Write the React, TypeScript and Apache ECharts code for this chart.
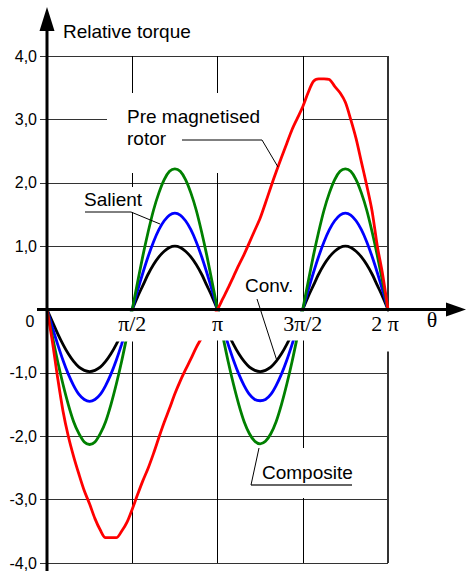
import React, { useEffect, useRef } from 'react';
import * as echarts from 'echarts';

// theta in units of pi
const thetaPi = [
  0, 0.03125, 0.0625, 0.09375, 0.125, 0.15625, 0.1875, 0.21875, 0.25, 0.28125, 0.3125, 0.34375, 0.375, 0.40625, 0.4375, 0.46875,
  0.5, 0.53125, 0.5625, 0.59375, 0.625, 0.65625, 0.6875, 0.71875, 0.75, 0.78125, 0.8125, 0.84375, 0.875, 0.90625, 0.9375, 0.96875,
  1, 1.03125, 1.0625, 1.09375, 1.125, 1.15625, 1.1875, 1.21875, 1.25, 1.28125, 1.3125, 1.34375, 1.375, 1.40625, 1.4375, 1.46875,
  1.5, 1.53125, 1.5625, 1.59375, 1.625, 1.65625, 1.6875, 1.71875, 1.75, 1.78125, 1.8125, 1.84375, 1.875, 1.90625, 1.9375, 1.96875,
  2,
];

const conv = [
  0, -0.19, -0.38, -0.55, -0.7, -0.82, -0.91, -0.96, -0.98, -0.96, -0.91, -0.82, -0.7, -0.55, -0.38, -0.19,
  0, 0.2, 0.38, 0.56, 0.71, 0.83, 0.92, 0.98, 1.0, 0.98, 0.92, 0.83, 0.71, 0.56, 0.38, 0.2,
  0, -0.19, -0.38, -0.55, -0.7, -0.82, -0.91, -0.96, -0.98, -0.96, -0.91, -0.82, -0.7, -0.55, -0.38, -0.19,
  0, 0.2, 0.38, 0.56, 0.71, 0.83, 0.92, 0.98, 1.0, 0.98, 0.92, 0.83, 0.71, 0.56, 0.38, 0.2,
  0,
];

const salient = [
  0, -0.28, -0.55, -0.8, -1.02, -1.2, -1.34, -1.42, -1.45, -1.42, -1.34, -1.2, -1.02, -0.8, -0.55, -0.28,
  0, 0.3, 0.58, 0.84, 1.07, 1.26, 1.4, 1.49, 1.52, 1.49, 1.4, 1.26, 1.07, 0.84, 0.58, 0.3,
  0, -0.28, -0.55, -0.8, -1.02, -1.2, -1.34, -1.42, -1.44, -1.42, -1.34, -1.2, -1.02, -0.8, -0.55, -0.28,
  0, 0.3, 0.58, 0.84, 1.07, 1.26, 1.4, 1.49, 1.52, 1.49, 1.4, 1.26, 1.07, 0.84, 0.58, 0.3,
  0,
];

const composite = [
  0, -0.42, -0.82, -1.18, -1.5, -1.77, -1.96, -2.09, -2.13, -2.09, -1.96, -1.77, -1.5, -1.18, -0.82, -0.42,
  0, 0.43, 0.85, 1.23, 1.57, 1.84, 2.05, 2.18, 2.22, 2.18, 2.05, 1.84, 1.57, 1.23, 0.85, 0.43,
  0, -0.42, -0.82, -1.18, -1.5, -1.77, -1.96, -2.08, -2.12, -2.08, -1.96, -1.77, -1.5, -1.18, -0.82, -0.42,
  0, 0.43, 0.85, 1.23, 1.57, 1.84, 2.05, 2.18, 2.22, 2.18, 2.05, 1.84, 1.57, 1.23, 0.85, 0.43,
  0,
];

const preMagnetised = [
  0, -0.5, -1.08, -1.6, -2.0, -2.32, -2.6, -2.86, -3.07, -3.3, -3.48, -3.6, -3.6, -3.6, -3.5, -3.36,
  -3.15, -2.92, -2.7, -2.5, -2.27, -2.02, -1.78, -1.56, -1.33, -1.13, -0.95, -0.78, -0.6, -0.45, -0.3, -0.15,
  0, 0.17, 0.34, 0.52, 0.7, 0.87, 1.06, 1.25, 1.44, 1.68, 1.93, 2.17, 2.4, 2.62, 2.84, 3.02,
  3.2, 3.42, 3.6, 3.64, 3.64, 3.63, 3.52, 3.42, 3.27, 3.0, 2.7, 2.33, 1.96, 1.56, 1.0, 0.55,
  0,
];

const xTickValues = [0.5, 1, 1.5, 2];
const xTickLabels = ['π/2', 'π', '3π/2', '2 π'];
const xLabelBoxWidths = [46, 40, 54, 38];
const xLabelBoxHeights = [30, 29, 29, 40];

const SANS = "'Liberation Sans', Arial, sans-serif";
const SERIF = "'Liberation Serif', 'Times New Roman', serif";

const W = 467;
const H = 571;
const GRID = { left: 47, top: 56, width: 341, height: 512 };

export default function App() {
  const ref = useRef<HTMLDivElement>(null);

  useEffect(() => {
    if (!ref.current) return;
    const chart = echarts.init(ref.current, undefined, { renderer: 'svg' });

    const mk = (vals: number[]) => thetaPi.map((t, i) => [t, vals[i]]);
    const line = (name: string, vals: number[], color: string) => ({
      name,
      type: 'line',
      data: mk(vals),
      showSymbol: false,
      symbol: 'none',
      smooth: 0.3,
      lineStyle: { color, width: 2.8 },
      z: 2,
    });

    chart.setOption({
      animation: false,
      backgroundColor: '#ffffff',
      grid: { left: GRID.left, top: GRID.top, width: GRID.width, height: GRID.height, containLabel: false },
      xAxis: {
        type: 'value',
        min: 0,
        max: 2,
        interval: 0.5,
        axisLine: { show: false },
        axisTick: { show: false },
        axisLabel: { show: false },
        splitLine: { show: true, lineStyle: { color: '#000', width: 1 } },
      },
      yAxis: {
        type: 'value',
        min: -4,
        max: 4,
        interval: 1,
        axisLine: { show: false },
        axisTick: { show: true, length: 7, lineStyle: { color: '#333', width: 1 } },
        axisLabel: {
          margin: 10,
          fontSize: 16,
          fontFamily: SANS,
          color: '#000',
          formatter: (v: number) => (v === 0 ? '' : v.toFixed(1).replace('.', ',')),
        },
        splitLine: { show: true, lineStyle: { color: '#333', width: 1 } },
      },
      series: [
        line('Conv.', conv, '#000000'),
        line('Salient', salient, '#0000ff'),
        line('Composite', composite, '#008000'),
        line('Pre magnetised rotor', preMagnetised, '#ff0000'),
      ],
    });

    const px = (x: number, y: number) => chart.convertToPixel({ gridIndex: 0 }, [x, y]) as number[];
    const origin = px(0, 0);
    const topLeft = px(0, 4);
    const bottomRight = px(2, -4);

    const graphics: any[] = [];

    // white boxes behind annotation labels (hide grid lines)
    const annoBox = (x: number, y: number, w: number, h: number) => ({
      type: 'rect', z: 1, silent: true,
      shape: { x, y, width: w, height: h },
      style: { fill: '#ffffff' },
    });
    graphics.push(annoBox(107, 93, 195, 80));
    graphics.push(annoBox(80, 187, 66, 25));
    graphics.push(annoBox(255, 448, 105, 50));

    // right border at 2π
    graphics.push({
      type: 'line', z: 1, silent: true,
      shape: { x1: bottomRight[0], y1: topLeft[1], x2: bottomRight[0], y2: bottomRight[1] },
      style: { stroke: '#333', lineWidth: 2 },
    });

    // x tick labels with white boxes
    xTickValues.forEach((v, i) => {
      const p = px(v, 0);
      const w = xLabelBoxWidths[i];
      const shift = i === 3 ? 3 : 0;
      graphics.push({
        type: 'rect', z: 10, silent: true,
        shape: { x: p[0] - w / 2 - shift, y: origin[1] + 2, width: w, height: xLabelBoxHeights[i] },
        style: { fill: '#ffffff' },
      });
      graphics.push({
        type: 'text', z: 21, silent: true,
        x: p[0] - shift, y: origin[1] + 14,
        style: { text: xTickLabels[i], fontSize: 22, fontFamily: SERIF, fill: '#000', align: 'center', verticalAlign: 'middle' },
      });
    });

    // origin label "0"
    graphics.push({
      type: 'text', z: 21, silent: true,
      x: origin[0] - 17, y: origin[1] + 12,
      style: { text: '0', fontSize: 16, fontFamily: SANS, fill: '#000', align: 'center', verticalAlign: 'middle' },
    });

    // theta label
    graphics.push({
      type: 'text', z: 21, silent: true,
      x: 432, y: origin[1] + 10,
      style: { text: 'θ', fontSize: 22, fontFamily: SERIF, fill: '#000', align: 'center', verticalAlign: 'middle' },
    });

    // axes
    graphics.push({
      type: 'line', z: 20, silent: true,
      shape: { x1: origin[0], y1: H, x2: origin[0], y2: 26 },
      style: { stroke: '#000', lineWidth: 3 },
    });
    graphics.push({
      type: 'polygon', z: 20, silent: true,
      shape: { points: [[origin[0], 7], [origin[0] - 7.5, 31], [origin[0] + 7.5, 31]] },
      style: { fill: '#000' },
    });
    graphics.push({
      type: 'line', z: 20, silent: true,
      shape: { x1: 37, y1: origin[1], x2: 450, y2: origin[1] },
      style: { stroke: '#000', lineWidth: 3 },
    });
    graphics.push({
      type: 'polygon', z: 20, silent: true,
      shape: { points: [[466, origin[1]], [446, origin[1] - 7], [446, origin[1] + 7]] },
      style: { fill: '#000' },
    });

    // axis title
    graphics.push({
      type: 'text', z: 21, silent: true,
      x: 63, y: 31,
      style: { text: 'Relative torque', fontSize: 19, fontFamily: SANS, fill: '#000', align: 'left', verticalAlign: 'middle' },
    });

    // annotations
    const label = (text: string, x: number, y: number) => ({
      type: 'text', z: 21, silent: true, x, y,
      style: { text, fontSize: 19, fontFamily: SANS, fill: '#000', align: 'left', verticalAlign: 'middle' },
    });
    const leader = (pts: number[][], color = '#000', width = 1) => ({
      type: 'polyline', z: 15, silent: true,
      shape: { points: pts },
      style: { stroke: color, lineWidth: width, fill: 'none' },
    });

    graphics.push(label('Pre magnetised', 127, 116));
    graphics.push(label('rotor', 127, 138));
    graphics.push(leader([[182, 140], [262, 140], [278, 167]]));

    graphics.push(label('Salient', 84, 199));
    graphics.push(leader([[85, 212], [131, 212], [160, 224]]));

    graphics.push(label('Conv.', 245, 285));
    graphics.push(leader([[257, 299], [277, 361]]));

    graphics.push(label('Composite', 262, 472));
    graphics.push(leader([[251, 485], [352, 485]], '#666', 2));
    graphics.push(leader([[251, 485], [259, 448]]));

    chart.setOption({ graphic: { elements: graphics } });

    return () => chart.dispose();
  }, []);

  return (
    <div
      ref={ref}
      style={{ position: 'fixed', left: 0, top: 0, width: W, height: H, background: '#fff' }}
    />
  );
}
